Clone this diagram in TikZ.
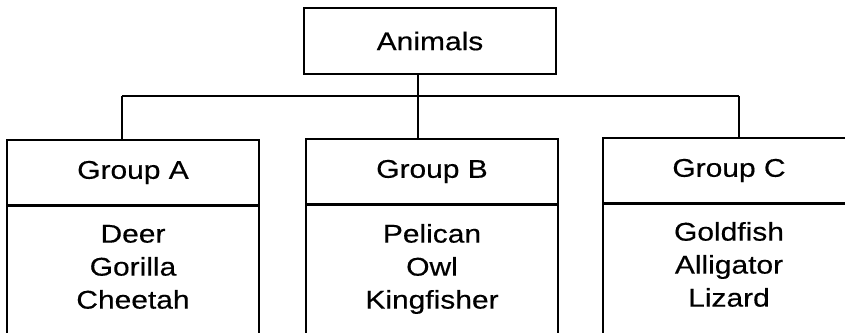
\documentclass[tikz,border=0pt]{standalone}
\usepackage{fontspec}
\setmainfont{Liberation Sans}[FakeStretch=1.17,FakeBold=0.4]
\begin{document}
\begin{tikzpicture}[x=1pt,y=1pt,
  font=\fontsize{25.6}{33}\selectfont,
  box/.style={draw=black, line width=1.3pt, minimum width=252pt, inner sep=0pt},
  hdr/.style={box, minimum height=65pt},
  body/.style={box, minimum height=170pt, anchor=north},
  lst/.style={align=center, inner sep=0pt},
  conn/.style={draw=black, line width=1.3pt}]
\useasboundingbox (0,0) rectangle (845,332);
\clip (0,0) rectangle (845,332);
\fill[white] (0,0) rectangle (845,332);
% root
\node[box, minimum height=66pt] (root) at (430,291) {Animals};
% groups
\node[hdr] (gA) at (133,159.5) {Group A};
\node[hdr] (gB) at (432,160.5) {Group B};
\node[hdr] (gC) at (729,161.5) {Group C};
\node[body] (bA) at (gA.south) {};
\node[body] (bB) at (gB.south) {};
\node[body] (bC) at (gC.south) {};
\node[lst] (lA) at (133,63) {\strut Deer\\\strut Gorilla\\\strut Cheetah};
\node[lst] (lB) at (432,63) {\strut Pelican\\\strut Owl\\\strut Kingfisher};
\node[lst] (lC) at (729,65) {\strut Goldfish\\\strut Alligator\\\strut Lizard};
% connectors
\coordinate (jA) at (122,236);
\coordinate (jB) at (418,236);
\coordinate (jC) at (739,236);
\draw[conn] (root.south -| jB) -- (gB.north -| jB);
\draw[conn] (jA) -- (jC);
\draw[conn] (jA) -- (gA.north -| jA);
\draw[conn] (jC) -- (gC.north -| jC);
\end{tikzpicture}
\end{document}
